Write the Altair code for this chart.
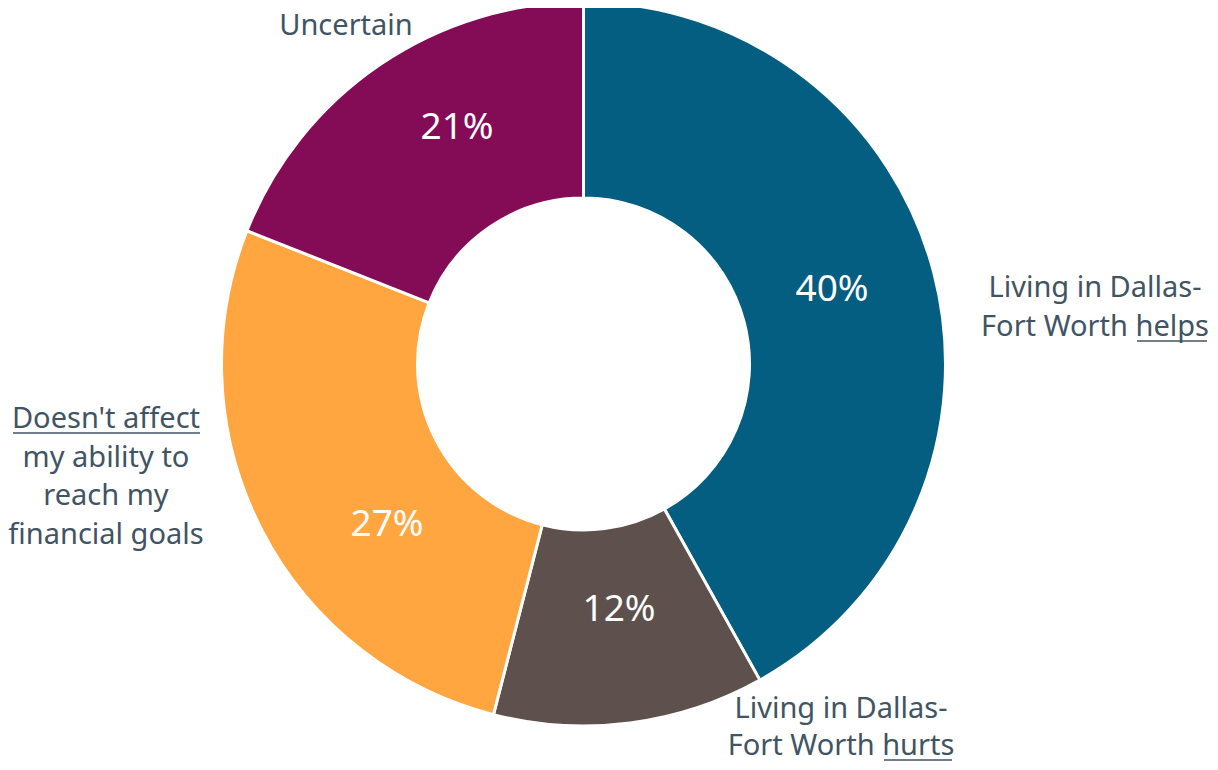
import altair as alt
import pandas as pd

categories = ["helps", "hurts", "neutral", "uncertain"]
values = [41.9, 12.1, 27.0, 19.0]
pct_labels = ["40%", "12%", "27%", "21%"]
colors = ["#045E82", "#5E514D", "#FFA640", "#840B55"]
outer_labels = [
    "Living in Dallas-\nFort Worth helps",
    "Living in Dallas-\nFort Worth hurts",
    "Doesn't affect\nmy ability to\nreach my\nfinancial goals",
    "Uncertain",
]

df = pd.DataFrame({
    "cat": categories,
    "value": values,
    "pct": pct_labels,
    "label": outer_labels,
    "idx": list(range(len(categories))),
})

FONT = "Noto Sans"
TXT = "#415464"

arc = alt.Chart(df).mark_arc(
    outerRadius=362, innerRadius=166, stroke="white", strokeWidth=3
).encode(
    theta=alt.Theta("value:Q", stack=True),
    order=alt.Order("idx:Q"),
    color=alt.Color("cat:N", scale=alt.Scale(domain=categories, range=colors), legend=None),
)

pct_pos = {
    "helps": (824, 282),
    "hurts": (611, 602),
    "neutral": (379, 517),
    "uncertain": (449, 120),
}
label_pos = {
    "helps": (1087, 289, 38.5),
    "hurts": (833, 710, 37),
    "neutral": (98, 420, 38.5),
    "uncertain": (338, 27, 38.5),
}
# underline decorations (x1, x2, y) for the emphasised words
underlines = [
    (1129, 1199, 333),
    (876, 944, 752),
    (5, 192, 425),
]

layers = [arc]
for c in categories:
    x, y = pct_pos[c]
    layers.append(
        alt.Chart(df).transform_filter(alt.datum.cat == c).mark_text(
            font=FONT, fontSize=37, color="white", align="center", baseline="middle"
        ).encode(text="pct:N", x=alt.value(x), y=alt.value(y))
    )
for c in categories:
    x, y, lh = label_pos[c]
    layers.append(
        alt.Chart(df).transform_filter(alt.datum.cat == c).mark_text(
            font=FONT, fontSize=29, color=TXT, align="center", baseline="alphabetic",
            lineBreak="\n", lineHeight=lh
        ).encode(text="label:N", x=alt.value(x), y=alt.value(y))
    )
for x1, x2, y in underlines:
    layers.append(
        alt.Chart(df.head(1)).mark_rule(color=TXT, strokeWidth=1.5).encode(
            x=alt.value(x1), x2=alt.value(x2), y=alt.value(y)
        )
    )

chart = alt.layer(*layers).properties(
    width=1151, height=712,
    padding={"left": 0, "top": 0, "right": 51, "bottom": 42},
    autosize=alt.AutoSizeParams(type="none"),
).configure_view(stroke=None)

chart.save("out.html", embed_options={"renderer": "svg", "actions": False})
